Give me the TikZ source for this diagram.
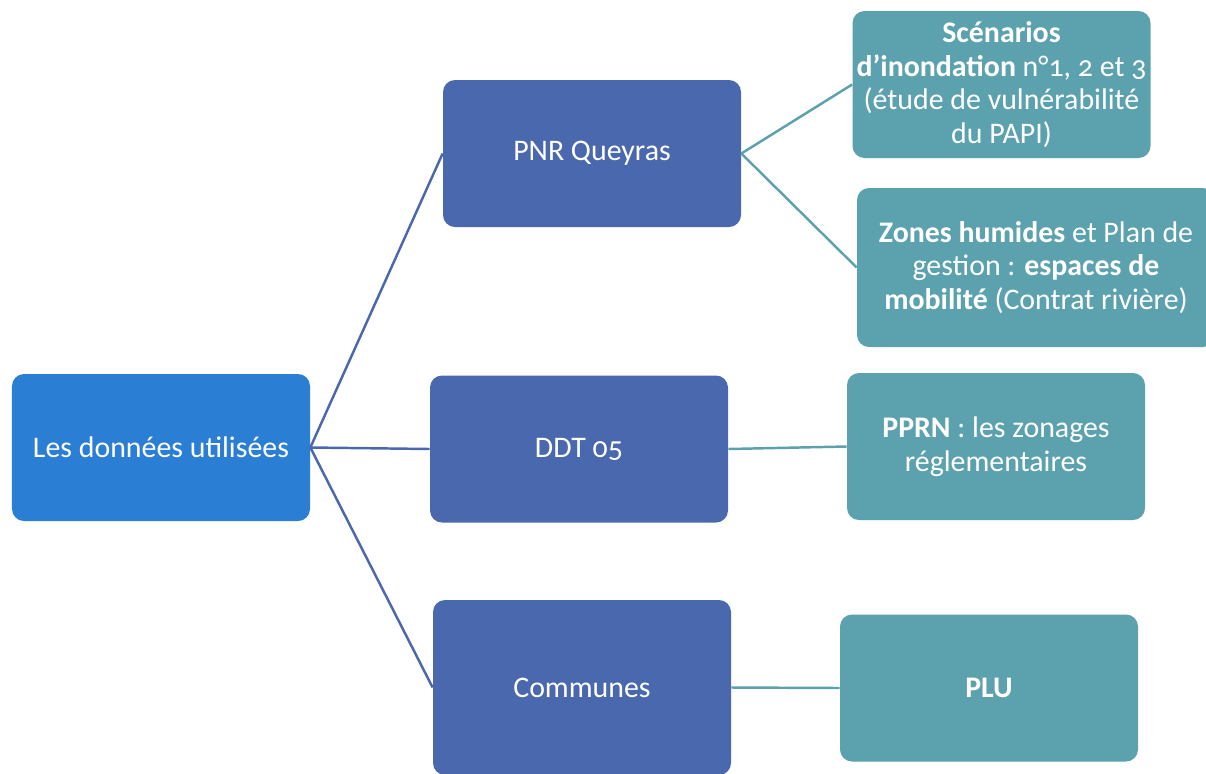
\documentclass[tikz,border=0pt]{standalone}
\usepackage{fontspec}
\setmainfont{Carlito}[Numbers=OldStyle]
\definecolor{rootblue}{RGB}{42,126,212}
\definecolor{midblue}{RGB}{74,104,174}
\definecolor{leafteal}{RGB}{91,162,174}
\tikzset{
	box/.style={rounded corners=0.24cm, text=white, align=center, inner sep=2pt,
		minimum width=5.96cm, minimum height=2.94cm, font=\fontsize{17}{19.2}\selectfont},
	rootbox/.style={box, fill=rootblue},
	midbox/.style={box, fill=midblue},
	leafbox/.style={box, fill=leafteal},
	midline/.style={draw=midblue, line width=1.4pt},
	leafline/.style={draw=leafteal, line width=1.4pt}
}
\begin{document}
\begin{tikzpicture}
	\useasboundingbox (0,0) rectangle (24.12,-15.46);
	\clip (0,0) rectangle (24.12,-15.46);
	% racine
	\node [rootbox] (donnees) at (3.22,-8.95) {Les données utilisées};
	% sources
	\node [midbox] (pnr) at (11.84,-3.07) {PNR Queyras};
	\node [midbox] (ddt) at (11.58,-8.98) {DDT 05};
	\node [midbox, minimum height=3.5cm] (communes) at (11.64,-13.75) {Communes};
	% donnees par source
	\node [leafbox] (scenarios) at (20.03,-1.69)
		{\textbf{Scénarios}\\\textbf{d’inondation} n°1, 2 et 3\\(étude de vulnérabilité\\du PAPI)};
	\node [leafbox, minimum width=7.16cm, minimum height=3.18cm] (zones) at (20.72,-5.35)
		{\textbf{Zones humides} et Plan de\\gestion : \textbf{espaces de}\\\textbf{mobilité} (Contrat rivière)};
	\node [leafbox] (pprn) at (19.92,-8.93) {\textbf{PPRN} : les zonages\\réglementaires};
	\node [leafbox] (plu) at (19.78,-13.76) {\textbf{PLU}};
	% liens
	\draw [midline] (donnees.east) -- (pnr.west);
	\draw [midline] (donnees.east) -- (ddt.west);
	\draw [midline] (donnees.east) -- (communes.west);
	\draw [leafline] (pnr.east) -- (scenarios.west);
	\draw [leafline] (pnr.east) -- (zones.west);
	\draw [leafline] (ddt.east) -- (pprn.west);
	\draw [leafline] (communes.east) -- (plu.west);
\end{tikzpicture}
\end{document}
